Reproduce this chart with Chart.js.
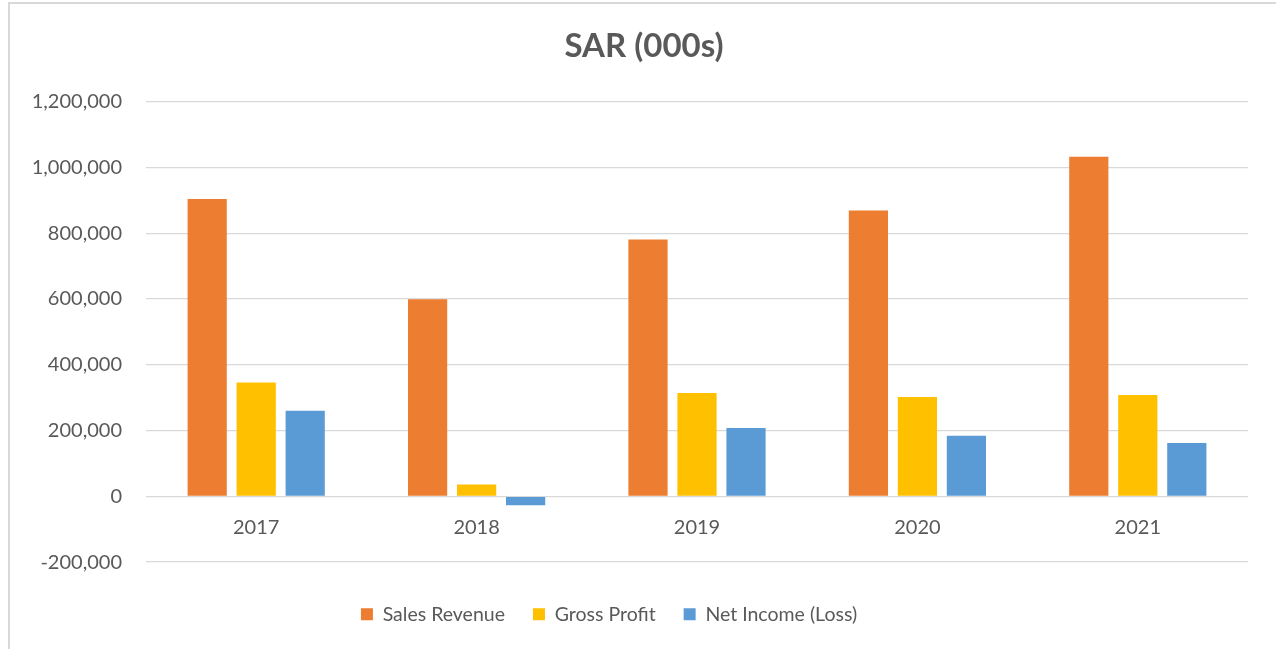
<!DOCTYPE html>
<html>
<head>
<meta charset="utf-8">
<script src="https://cdn.jsdelivr.net/npm/chart.js@4"></script>
<style>
    html, body { margin: 0; padding: 0; background: #fff; overflow: hidden; }
    .frame {
        position: absolute; left: 8px; top: 2px; width: 1290px; height: 680px;
        border: 2px solid #d9d9d9; box-sizing: border-box;
    }
    .wrap { position: absolute; left: 0; top: 0; width: 1276px; height: 649px; }
</style>
</head>
<body>
<div class="frame"></div>
<div class="wrap"><canvas id="chart" width="1276" height="649"></canvas></div>
<script>
const years = ['2017', '2018', '2019', '2020', '2021'];
const salesRevenue = [904000, 599000, 781000, 869000, 1032000];
const grossProfit = [346000, 36000, 314000, 302000, 308000];
const netIncome = [260000, -27000, 208000, 184000, 162000];
const seriesNames = ['Sales Revenue', 'Gross Profit', 'Net Income (Loss)'];
const seriesColors = ['#ED7D31', '#FFC000', '#5B9BD5'];

const textColor = '#595959';
const font = 'Lato, "Open Sans", sans-serif';

document.addEventListener('DOMContentLoaded', () => {
    const ctx = document.getElementById('chart').getContext('2d');
    const values = [salesRevenue, grossProfit, netIncome];

    new Chart(ctx, {
        type: 'bar',
        data: {
            labels: years,
            datasets: seriesNames.map((name, i) => ({
                label: name,
                data: values[i],
                backgroundColor: seriesColors[i],
                borderWidth: 0,
                categoryPercentage: 0.667,
                barPercentage: 0.8
            }))
        },
        options: {
            responsive: false,
            animation: false,
            layout: { padding: { left: 0, right: 28, top: 0, bottom: 15 } },
            plugins: {
                title: {
                    display: true,
                    // leading spaces nudge the centred title a bit to the right, like Excel
                    text: '     SAR (000s)',
                    color: textColor,
                    font: { family: font, size: 33, weight: 'bold' },
                    padding: { top: 27, bottom: 35 }
                },
                legend: {
                    position: 'bottom',
                    // empty title only adds space above the legend items
                    title: { display: true, text: ' ', font: { size: 2 }, padding: { top: 6, bottom: 6 } },
                    labels: {
                        color: textColor,
                        font: { family: font, size: 19.5 },
                        boxWidth: 12,
                        boxHeight: 12,
                        padding: 28,
                        generateLabels: (chart) => {
                            const items = Chart.defaults.plugins.legend.labels.generateLabels(chart);
                            // trailing spaces shift the legend row slightly left
                            items[items.length - 1].text += '      ';
                            return items;
                        }
                    }
                },
                tooltip: { enabled: false }
            },
            scales: {
                x: {
                    position: { y: 0 },
                    grid: { display: false },
                    border: { display: false },
                    ticks: {
                        color: textColor,
                        font: { family: font, size: 20 },
                        padding: 11
                    }
                },
                y: {
                    min: -200000,
                    max: 1200000,
                    afterFit: (scale) => { scale.width = 146; },
                    grid: { color: '#d9d9d9', lineWidth: 1.3, drawTicks: false },
                    border: { display: false },
                    ticks: {
                        stepSize: 200000,
                        color: textColor,
                        font: { family: font, size: 20 },
                        padding: 24,
                        callback: (v) => v.toLocaleString('en-US')
                    }
                }
            }
        }
    });
});
</script>
</body>
</html>
